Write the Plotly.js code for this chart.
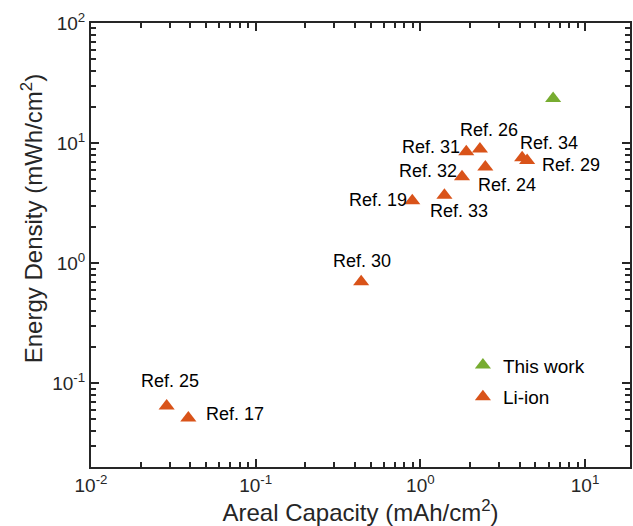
<!DOCTYPE html>
<html>
<head>
<meta charset="utf-8">
<script src="https://cdn.plot.ly/plotly-3.0.1.min.js"></script>
<style>html,body{margin:0;padding:0;background:#fff;}#chart{width:633px;height:526px;}</style>
</head>
<body>
<div id="chart"></div>
<script>
// ---- data ----
const refLabels   = ["Ref. 31", "Ref. 26", "Ref. 34", "Ref. 29", "Ref. 24", "Ref. 32", "Ref. 33", "Ref. 19", "Ref. 30", "Ref. 25", "Ref. 17"];
const refCapacity = [1.90, 2.30, 4.15, 4.45, 2.48, 1.79, 1.40, 0.893, 0.437, 0.0288, 0.039];
const refEnergy   = [8.45, 8.9, 7.54, 7.16, 6.3, 5.24, 3.68, 3.30, 0.698, 0.0646, 0.0513];
const thisCapacity = [6.4];
const thisEnergy   = [23.5];
const seriesNames = ["This work", "Li-ion"];
const xTickVals = [0.01, 0.1, 1, 10];
const xTickText = ["10<sup>-2</sup>", "10<sup>-1</sup>", "10<sup>0</sup>", "10<sup>1</sup>"];
const yTickVals = [0.1, 1, 10, 100];
const yTickText = ["10<sup>-1</sup>", "10<sup>0</sup>", "10<sup>1</sup>", "10<sup>2</sup>"];

// ---- styling (label offsets in screen pixels: dx right, dy up) ----
const labelShift = [[-35, 5], [9, 19], [27, 15], [44, -5], [22, -18], [-34, 6], [15, -16], [-34, 1], [1, 21], [3, 25], [47, 4]];
const FONT = "Liberation Sans, Arial, Helvetica, sans-serif";
const INK = "#262626";
const ORANGE = "#D95319";
const GREEN = "#77AC30";
const X_RANGE = [-2, 1.273];
const Y_RANGE = [Math.log10(0.02), 2];

// minor tick positions (2..9 within each decade)
function minorTicks(lo, hi) {
  const out = [];
  for (let e = lo; e <= hi; e++) for (let d = 2; d <= 9; d++) out.push(d * Math.pow(10, e));
  return out;
}

const traces = [
  {x: thisCapacity, y: thisEnergy, name: seriesNames[0], type: "scatter", mode: "markers",
   legendgroup: "a", marker: {symbol: "triangle-up", size: 14, color: GREEN}},
  {x: refCapacity, y: refEnergy, name: seriesNames[1], type: "scatter", mode: "markers",
   legendgroup: "b", marker: {symbol: "triangle-up", size: 14, color: ORANGE}},
  // empty helper trace so the minor-tick overlay axes get drawn
  {x: [], y: [], xaxis: "x2", yaxis: "y2", type: "scatter", mode: "markers",
   showlegend: false, hoverinfo: "skip"}
];

const annotations = refLabels.map((t, i) => ({
  text: t, x: Math.log10(refCapacity[i]), y: Math.log10(refEnergy[i]),
  xref: "x", yref: "y", showarrow: false, xanchor: "center", yanchor: "middle",
  xshift: labelShift[i][0], yshift: labelShift[i][1],
  font: {family: FONT, size: 18, color: "#000"}
}));
annotations.push({
  text: "Energy Density (mWh/cm<sup>2</sup>)", textangle: -90,
  xref: "paper", yref: "paper", x: -0.109, y: 0.5586, xanchor: "center", yanchor: "middle",
  showarrow: false, font: {family: FONT, size: 24, color: INK}
});

const axisCommon = {
  type: "log", showgrid: false, zeroline: false,
  showline: true, linecolor: INK, linewidth: 2, mirror: "allticks",
  ticks: "inside", ticklen: 8, tickwidth: 2, tickcolor: INK,
  tickmode: "array",
  tickfont: {family: FONT, size: 19, color: INK}
};
const minorCommon = {
  type: "log", showgrid: false, zeroline: false, showline: false,
  ticks: "inside", ticklen: 5, tickwidth: 2, tickcolor: INK,
  tickmode: "array", showticklabels: false, mirror: "ticks"
};

const layout = {
  width: 633, height: 526,
  margin: {l: 91, r: 3, t: 23, b: 59},
  paper_bgcolor: "#fff", plot_bgcolor: "#fff",
  showlegend: true,
  legend: {x: 0.69, y: 0.272, xanchor: "left", yanchor: "top",
           bgcolor: "rgba(0,0,0,0)", borderwidth: 0,
           traceorder: "grouped", tracegroupgap: 4,
           font: {family: FONT, size: 19, color: "#000"}},
  xaxis: Object.assign({}, axisCommon, {
    range: X_RANGE, tickvals: xTickVals, ticktext: xTickText,
    title: {text: "Areal Capacity (mAh/cm<sup>2</sup>)", font: {family: FONT, size: 24, color: INK}, standoff: 4}
  }),
  yaxis: Object.assign({}, axisCommon, {
    range: Y_RANGE, tickvals: yTickVals, ticktext: yTickText, title: {text: ""}
  }),
  xaxis2: Object.assign({}, minorCommon, {
    overlaying: "x", anchor: "y2", side: "bottom", range: X_RANGE, tickvals: minorTicks(-2, 1)
  }),
  yaxis2: Object.assign({}, minorCommon, {
    overlaying: "y", anchor: "x2", side: "left", range: Y_RANGE, tickvals: minorTicks(-2, 1)
  }),
  annotations: annotations
};

Plotly.newPlot("chart", traces, layout, {staticPlot: true, displayModeBar: false});
</script>
</body>
</html>
